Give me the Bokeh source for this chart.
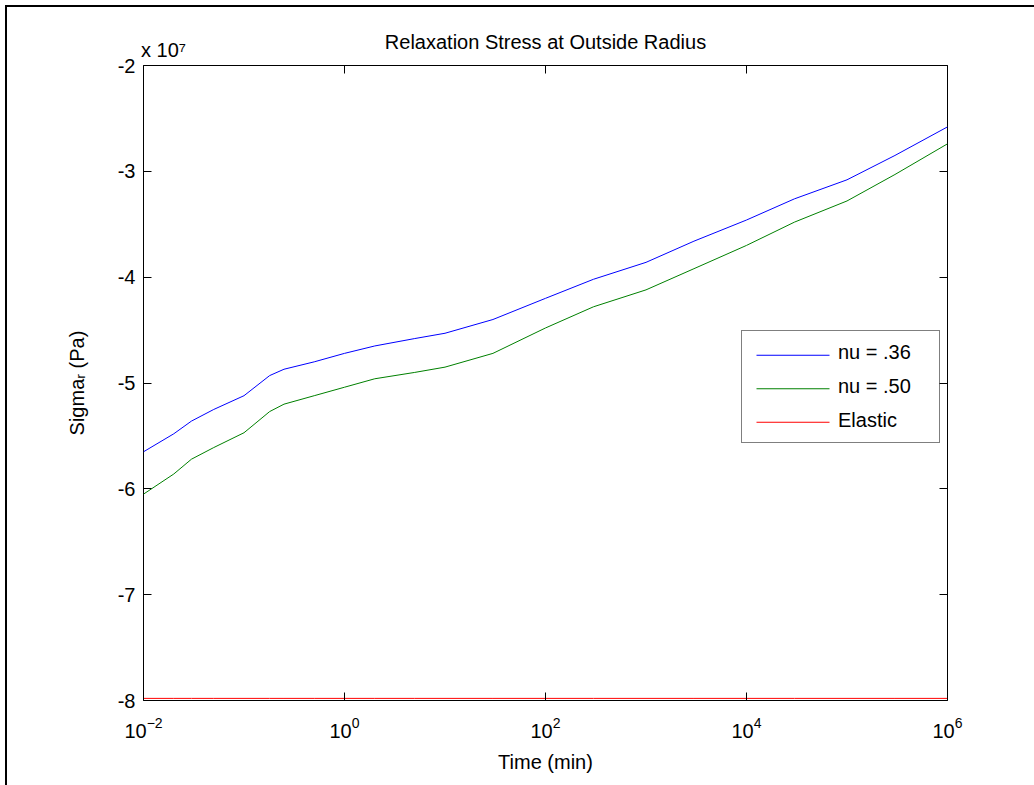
import math
from bokeh.plotting import figure
from bokeh.models import (FixedTicker, LinearAxis, LogAxis, Legend, LegendItem, Range1d)
from bokeh.layouts import column
from bokeh.embed import file_html
from bokeh.resources import INLINE

# ---- data (stress in units of 1e7 Pa) ----
time_min = [0.01, 0.02, 0.03, 0.05, 0.1, 0.18, 0.25, 0.5, 1, 2, 5, 10, 30,
            100, 300, 1000, 3000, 1e4, 3e4, 1e5, 3e5, 1e6]
nu_036 = [-5.65, -5.48, -5.36, -5.25, -5.12, -4.93, -4.87, -4.80, -4.72, -4.65,
          -4.58, -4.53, -4.40, -4.20, -4.02, -3.86, -3.66, -3.46, -3.26, -3.08,
          -2.85, -2.58]
nu_050 = [-6.05, -5.86, -5.72, -5.61, -5.47, -5.27, -5.20, -5.12, -5.04, -4.96,
          -4.90, -4.85, -4.72, -4.48, -4.28, -4.12, -3.92, -3.70, -3.48, -3.28,
          -3.03, -2.74]
elastic = [-7.98] * len(time_min)
series_names = ["nu = .36", "nu = .50", "Elastic"]
series_colors = ["#0000ff", "#008000", "#ff0000"]
x_ticks = [1e-2, 1, 1e2, 1e4, 1e6]
y_ticks = [-8, -7, -6, -5, -4, -3, -2]
y_tick_labels = {t: "-%d" % abs(t) for t in y_ticks}
title_text = "Relaxation Stress at Outside Radius"
multiplier_text = "x 10\u2077"

FONT = "Liberation Sans"

# ---- geometry (pixels) ----
W, H = 1027, 778
BL, BR, BT, BB = 136, 87, 58, 85
FW, FH = W - BL - BR, H - BT - BB
X0, X1, Y0, Y1 = -2.0, 6.0, -8.0, -2.0

def fx(px):   # frame px from left -> data x (log)
    return 10 ** (X0 + px / FW * (X1 - X0))

def fy(py):   # frame px from top -> data y
    return Y1 - py / FH * (Y1 - Y0)

p = figure(width=W, height=H, x_axis_type="log", output_backend="svg",
           toolbar_location=None, x_range=Range1d(10 ** X0, 10 ** X1),
           y_range=Range1d(Y0, Y1),
           min_border_left=BL, min_border_right=BR, min_border_top=BT,
           min_border_bottom=BB, title=None)
p.grid.visible = False
p.outline_line_color = "black"
p.outline_line_width = 1

def style_axis(ax, labels=True):
    ax.axis_line_color = None
    ax.major_tick_in = 8
    ax.major_tick_out = 0
    ax.minor_tick_in = 0
    ax.minor_tick_out = 0
    ax.major_tick_line_color = "black"
    ax.major_label_text_font = FONT
    ax.major_label_text_font_size = "20px"
    ax.major_label_text_color = "black"
    ax.axis_label_text_font = FONT
    ax.axis_label_text_font_size = "20px"
    ax.axis_label_text_font_style = "normal"
    ax.axis_label_text_color = "black"
    if not labels:
        ax.major_label_text_font_size = "1px"
        ax.major_label_text_alpha = 0
        ax.major_label_standoff = 0

xa = p.xaxis[0]
xa.ticker = FixedTicker(ticks=x_ticks)
style_axis(xa)
xa.axis_label = "Time (min)"
xa.major_label_standoff = 16
xa.axis_label_standoff = 10

ya = p.yaxis[0]
ya.ticker = FixedTicker(ticks=y_ticks)
style_axis(ya)
ya.major_label_overrides = y_tick_labels
ya.axis_label = "Sigma\u1d63 (Pa)"
ya.major_label_standoff = 8
ya.axis_label_standoff = 27

# top axis: inward ticks only
top = LogAxis(ticker=FixedTicker(ticks=x_ticks))
style_axis(top, labels=False)
p.add_layout(top, "above")

# second top axis: carries the exponent multiplier and the title
anchor = fx(20)
top2 = LogAxis(ticker=FixedTicker(ticks=[anchor]))
style_axis(top2)
top2.major_tick_in = 0
top2.major_label_overrides = {anchor: multiplier_text}
top2.major_label_standoff = 5
top2.axis_label = title_text
top2.axis_label_standoff = -17
p.add_layout(top2, "above")

right = LinearAxis(ticker=FixedTicker(ticks=y_ticks))
style_axis(right, labels=False)
p.add_layout(right, "right")

data_series = [nu_036, nu_050, elastic]
for ys, c in zip(data_series, series_colors):
    p.line(time_min, ys, line_color=c, line_width=1)

# legend: box + labels from Legend, key lines drawn as glyphs
LEG_LEFT, LEG_BOTTOM = 598, 257          # frame px from left / bottom
LEG_PAD, LEG_SPACING, ROW_H, GLYPH_W = 10, 11, 22.5, 73
dummies = [p.line(x=[], y=[], line_alpha=0) for _ in series_names]
leg = Legend(items=[LegendItem(label=n, renderers=[r]) for n, r in zip(series_names, dummies)],
             location=(LEG_LEFT, LEG_BOTTOM))
leg.border_line_color = "black"
leg.border_line_width = 1
leg.background_fill_alpha = 0
leg.label_text_font = FONT
leg.label_text_font_size = "20px"
leg.label_text_color = "black"
leg.glyph_width = GLYPH_W
leg.glyph_height = 20
leg.label_height = 20
leg.label_width = 91
leg.label_standoff = 13
leg.spacing = LEG_SPACING
leg.padding = LEG_PAD
leg.margin = 0
p.add_layout(leg, "center")

leg_h = 2 * LEG_PAD + 3 * ROW_H + 2 * LEG_SPACING
leg_top = FH - LEG_BOTTOM - leg_h
kx0, kx1 = LEG_LEFT + 15, LEG_LEFT + 15 + GLYPH_W
for i, c in enumerate(series_colors):
    py = leg_top + LEG_PAD + ROW_H / 2 + i * (ROW_H + LEG_SPACING)
    p.segment(x0=[fx(kx0)], y0=[fy(py)], x1=[fx(kx1)], y1=[fy(py)],
              line_color=c, line_width=1)

layout = column(p, styles={"border-left": "2px solid black",
                           "border-top": "2px solid black",
                           "margin-left": "5px", "margin-top": "5px"})

open("out.html", "w").write(file_html(layout, INLINE))
